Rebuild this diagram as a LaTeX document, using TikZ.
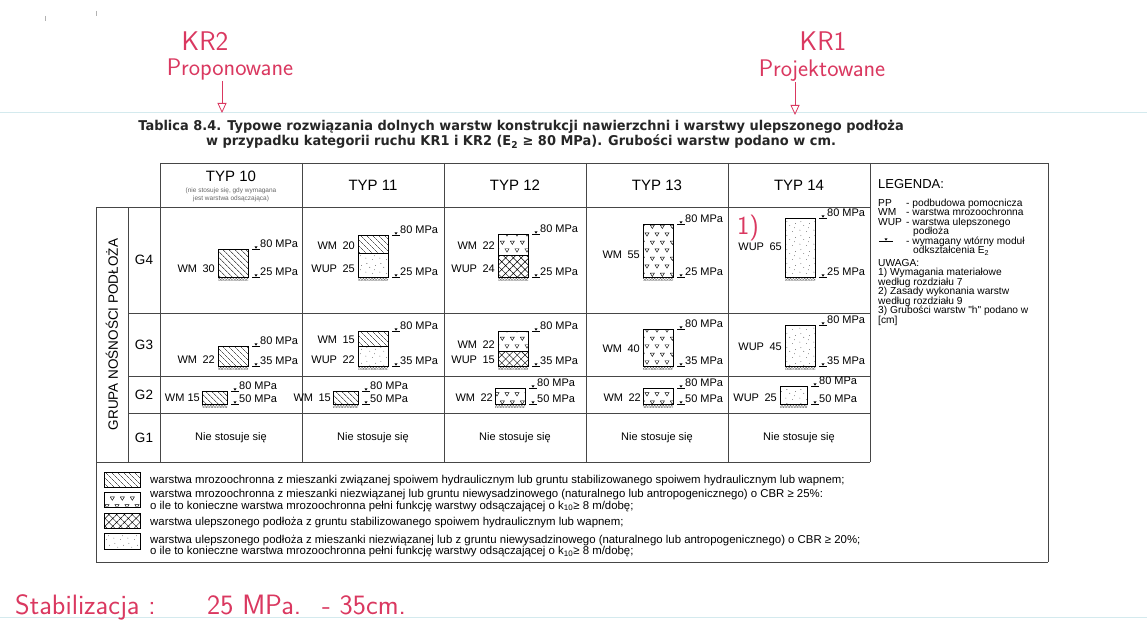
\documentclass[tikz,border=0pt]{standalone}
\usepackage{fontspec}
\setmainfont{Liberation Sans}
\newfontfamily\titlefont[FakeStretch=0.96]{DejaVu Sans}
\usetikzlibrary{patterns.meta, arrows.meta, positioning}

\definecolor{handred}{RGB}{218,56,96}
\definecolor{ruleblue}{RGB}{212,234,238}
\definecolor{gridgray}{RGB}{70,70,70}

% layer fills
\pgfdeclarepattern{
  name=soiltri, type=uncolored,
  bottom left={\pgfpoint{0pt}{0pt}}, top right={\pgfpoint{10pt}{16pt}},
  tile size={\pgfpoint{10pt}{16pt}},
  code={
    \pgfsetlinewidth{0.45pt}
    \pgfpathmoveto{\pgfpoint{0.3pt}{14.5pt}}
    \pgfpathlineto{\pgfpoint{4.7pt}{14.5pt}}
    \pgfpathlineto{\pgfpoint{2.5pt}{11pt}}
    \pgfpathclose
    \pgfpathmoveto{\pgfpoint{5.3pt}{6.5pt}}
    \pgfpathlineto{\pgfpoint{9.7pt}{6.5pt}}
    \pgfpathlineto{\pgfpoint{7.5pt}{3pt}}
    \pgfpathclose
    \pgfusepath{stroke}
  }
}
\pgfdeclarepattern{
  name=soildots, type=uncolored,
  bottom left={\pgfpoint{0pt}{0pt}}, top right={\pgfpoint{14pt}{14pt}},
  tile size={\pgfpoint{14pt}{14pt}},
  code={
    \pgfpathcircle{\pgfpoint{2pt}{3pt}}{0.45pt}
    \pgfpathcircle{\pgfpoint{9pt}{1.5pt}}{0.4pt}
    \pgfpathcircle{\pgfpoint{6pt}{8pt}}{0.45pt}
    \pgfpathcircle{\pgfpoint{12pt}{10pt}}{0.4pt}
    \pgfpathcircle{\pgfpoint{3pt}{12pt}}{0.45pt}
    \pgfpathcircle{\pgfpoint{11pt}{5.5pt}}{0.4pt}
    \pgfusepath{fill}
  }
}

% E2 marker and its value
\newcommand{\modmark}[4]{%
  \draw[line width=0.4pt] (#2+4,#3) -- (#2+12,#3);
  \fill (#2+6.5,#3-2.6) -- (#2+9.5,#3-2.6) -- (#2+8,#3-0.3) -- cycle;
  \node[mpa, anchor=base west] (#1) at (#2+12,#3-1.5) {#4 MPa};}

% layer column: frame, soil strip, markers
\newcommand{\layercol}[7]{%
  \fill[soil] (#2,#4) rectangle (#2+#5,#4+3);
  \draw[line width=0.5pt] (#2,#3) rectangle (#2+#5,#4);
  \modmark{#1t}{#2+#5}{#3}{#6}
  \modmark{#1b}{#2+#5}{#4}{#7}}

\begin{document}
\begin{tikzpicture}[x=1pt, y=-1pt,
    grid/.style={line width=0.6pt, gridgray},
    mpa/.style={font=\fontsize{11}{12}\selectfont, inner sep=0pt},
    lbl/.style={font=\fontsize{11}{12}\selectfont, inner sep=0pt},
    typ/.style={font=\fontsize{15}{16}\selectfont, inner sep=0pt},
    grp/.style={font=\fontsize{13.5}{14}\selectfont, inner sep=0pt},
    nie/.style={font=\fontsize{11}{12}\selectfont, inner sep=0pt},
    leg/.style={font=\fontsize{10.2}{11}\selectfont, inner sep=0pt, anchor=base west},
    bleg/.style={font=\fontsize{11.4}{12}\selectfont, inner sep=0pt, anchor=base west},
    titletext/.style={font=\titlefont\bfseries\fontsize{13.5}{15}\selectfont, inner sep=0pt, anchor=base, text=black!85},
    hand/.style={font=\sffamily\fontsize{24}{26}\selectfont, text=handred, inner sep=0pt},
    handarrow/.style={handred, line width=0.8pt, -{Triangle[open, length=10pt, width=9pt]}},
    hatchwm/.style={pattern={Lines[angle=-45, distance=4pt, line width=0.45pt]}},
    triwm/.style={pattern=soiltri},
    crosswup/.style={pattern={Hatch[angle=45, distance=5.5pt, line width=0.45pt]}},
    dotwup/.style={pattern=soildots, pattern color=black!70},
    soil/.style={pattern={Hatch[angle=45, distance=2pt, line width=0.3pt]}, pattern color=black!60}]

    \useasboundingbox[fill=white] (0,0) rectangle (1147,639);

    % Paper rules and specks
    \draw[ruleblue, line width=1pt] (0,113) -- (1147,113);
    \draw[ruleblue, line width=1pt] (0,617) -- (1147,617);
    \draw[gray!60, line width=0.8pt] (45,16) -- (45,21);
    \draw[gray!60, line width=0.8pt] (96,11) -- (96,16);

    % Handwritten notes
    \node[hand, font=\sffamily\fontsize{27}{28}\selectfont] (kr2) at (205,41) {KR2};
    \node[hand] (kr2txt) at (230,70) {Proponowane};
    \coordinate (kr2end) at (222,113);
    \draw[handarrow] (kr2txt.south -| kr2end) -- (kr2end);
    \node[hand, font=\sffamily\fontsize{27}{28}\selectfont] (kr1) at (823,41) {KR1};
    \node[hand] (kr1txt) at (822,71) {Projektowane};
    \coordinate (kr1end) at (795,115);
    \draw[handarrow] (kr1txt.south -| kr1end) -- (kr1end);
    \node[hand, font=\sffamily\fontsize{26}{28}\selectfont] (uw1) at (748,228) {1)};

    % Title
    \node[titletext] (title1) at (521,131) {Tablica 8.4. Typowe rozwiązania dolnych warstw konstrukcji nawierzchni i warstwy ulepszonego podłoża};
    \node[titletext] (title2) at (521,146) {w przypadku kategorii ruchu KR1 i KR2 (E\textsubscript{2} ≥ 80 MPa). Grubości warstw podano w cm.};

    % Table lines
    \draw[grid] (160,163) -- (1048,163);
    \draw[grid] (96,207) -- (870,207);
    \draw[grid] (128,313) -- (870,313);
    \draw[grid] (128,376) -- (870,376);
    \draw[grid] (128,413) -- (870,413);
    \draw[grid] (96,462) -- (870,462);
    \draw[grid] (96,562) -- (1048,562);
    \draw[grid] (96,207) -- (96,562);
    \draw[grid] (128,207) -- (128,462);
    \foreach \x in {160,302,444,586,728,870}
        \draw[grid] (\x,163) -- (\x,462);
    \draw[grid] (1048,163) -- (1048,562);

    % Header
    \node[typ] (typ10) at (231,176) {TYP 10};
    \node[font=\fontsize{6.5}{7.5}\selectfont, text=black!60, align=center, inner sep=0pt] (typ10note) at (231,195) {(nie stosuje się, gdy wymagana\\jest warstwa odsączająca)};
    \node[typ] (typ11) at (373,185) {TYP 11};
    \node[typ] (typ12) at (515,185) {TYP 12};
    \node[typ] (typ13) at (657,185) {TYP 13};
    \node[typ] (typ14) at (799,185) {TYP 14};

    % Row heads
    \node[grp, rotate=90] (grupa) at (112,334.5) {GRUPA NOŚNOŚCI PODŁOŻA};
    \node[grp] (g4) at (144,260) {G4};
    \node[grp] (g3) at (144,344.5) {G3};
    \node[grp] (g2) at (144,394.5) {G2};
    \node[grp] (g1) at (144,437.5) {G1};

    % G4 row
    \fill[hatchwm] (218,249) rectangle (248,277);
    \layercol{g4a}{218}{249}{277}{30}{80}{25}
    \node[lbl, anchor=base east] (g4awm) at (215,272) {WM\enspace30};

    \fill[hatchwm] (358,235) rectangle (388,253);
    \fill[dotwup] (358,253) rectangle (388,277);
    \draw (358,253) -- (388,253);
    \layercol{g4b}{358}{235}{277}{30}{80}{25}
    \node[lbl, anchor=base east] (g4bwm) at (355,249) {WM\enspace20};
    \node[lbl, anchor=base east] (g4bwup) at (355,272) {WUP\enspace25};

    \fill[triwm] (498,234) rectangle (528,255);
    \fill[crosswup] (498,255) rectangle (528,277);
    \draw (498,255) -- (528,255);
    \layercol{g4c}{498}{234}{277}{30}{80}{25}
    \node[lbl, anchor=base east] (g4cwm) at (495,249) {WM\enspace22};
    \node[lbl, anchor=base east] (g4cwup) at (495,272) {WUP\enspace24};

    \fill[triwm] (643,224) rectangle (673,277);
    \layercol{g4d}{643}{224}{277}{30}{80}{25}
    \node[lbl, anchor=base east] (g4dwm) at (640,258) {WM\enspace55};

    \fill[dotwup] (785,218) rectangle (815,277);
    \layercol{g4e}{785}{218}{277}{30}{80}{25}
    \node[lbl, anchor=base east] (g4ewup) at (782,250) {WUP\enspace65};

    % G3 row
    \fill[hatchwm] (218,346) rectangle (248,366);
    \layercol{g3a}{218}{346}{366}{30}{80}{35}
    \node[lbl, anchor=base east] (g3awm) at (215,363) {WM\enspace22};

    \fill[hatchwm] (358,331) rectangle (388,346);
    \fill[dotwup] (358,346) rectangle (388,366);
    \draw (358,346) -- (388,346);
    \layercol{g3b}{358}{331}{366}{30}{80}{35}
    \node[lbl, anchor=base east] (g3bwm) at (355,343) {WM\enspace15};
    \node[lbl, anchor=base east] (g3bwup) at (355,363) {WUP\enspace22};

    \fill[triwm] (498,331) rectangle (528,351);
    \fill[crosswup] (498,351) rectangle (528,366);
    \draw (498,351) -- (528,351);
    \layercol{g3c}{498}{331}{366}{30}{80}{35}
    \node[lbl, anchor=base east] (g3cwm) at (495,348) {WM\enspace22};
    \node[lbl, anchor=base east] (g3cwup) at (495,363) {WUP\enspace15};

    \fill[triwm] (643,329) rectangle (673,366);
    \layercol{g3d}{643}{329}{366}{30}{80}{35}
    \node[lbl, anchor=base east] (g3dwm) at (640,352) {WM\enspace40};

    \fill[dotwup] (785,325) rectangle (815,366);
    \layercol{g3e}{785}{325}{366}{30}{80}{35}
    \node[lbl, anchor=base east] (g3ewup) at (782,350) {WUP\enspace45};

    % G2 row
    \fill[hatchwm] (202,391) rectangle (227,404);
    \layercol{g2a}{202}{391}{404}{25}{80}{50}
    \node[lbl, anchor=base east] (g2awm) at (200,401) {WM 15};

    \fill[hatchwm] (333,391) rectangle (358,404);
    \layercol{g2b}{333}{391}{404}{25}{80}{50}
    \node[lbl, anchor=base east] (g2bwm) at (331,401) {WM\enspace15};

    \fill[triwm] (495,388) rectangle (525,404);
    \layercol{g2c}{495}{388}{404}{30}{80}{50}
    \node[lbl, anchor=base east] (g2cwm) at (493,401) {WM\enspace22};

    \fill[triwm] (643,388) rectangle (673,404);
    \layercol{g2d}{643}{388}{404}{30}{80}{50}
    \node[lbl, anchor=base east] (g2dwm) at (641,401) {WM\enspace22};

    \fill[dotwup] (780,386) rectangle (807,404);
    \layercol{g2e}{780}{386}{404}{27}{80}{50}
    \node[lbl, anchor=base east] (g2ewup) at (777,401) {WUP\enspace25};

    % G1 row
    \foreach \c/\n in {231/a, 373/b, 515/c, 657/d, 799/e}
        \node[nie] (g1\n) at (\c,437.5) {Nie stosuje się};

    % Legend column
    \node[font=\fontsize{13}{14}\selectfont, inner sep=0pt, anchor=base west] (legenda) at (878,188) {LEGENDA:};
    \node[leg] (lpp) at (878,206) {PP};
    \node[leg] (lppt) at (906,206) {- podbudowa pomocnicza};
    \node[leg] (lwm) at (878,215.5) {WM};
    \node[leg] (lwmt) at (906,215.5) {- warstwa mrozoochronna};
    \node[leg] (lwup) at (878,225) {WUP};
    \node[leg] (lwupt) at (906,225) {- warstwa ulepszonego};
    \node[leg] (lwupt2) at (913,234.5) {podłoża};
    \draw[line width=0.4pt] (879,241) -- (893,241);
    \fill (884.5,238.4) -- (887.5,238.4) -- (886,240.7) -- cycle;
    \node[leg] (lmodt) at (906,244) {- wymagany wtórny moduł};
    \node[leg] (lmodt2) at (913,253.5) {odkształcenia E\textsubscript{2}};
    \node[leg] (luwaga) at (878,266) {UWAGA:};
    \node[leg] (lu1) at (878,275.5) {1) Wymagania materiałowe};
    \node[leg] (lu1b) at (878,285) {według rozdziału 7};
    \node[leg] (lu2) at (878,294.5) {2) Zasady wykonania warstw};
    \node[leg] (lu2b) at (878,304) {według rozdziału 9};
    \node[leg] (lu3) at (878,313.5) {3) Grubości warstw \textquotedbl h\textquotedbl\ podano w};
    \node[leg] (lu3b) at (878,323) {[cm]};

    % Bottom legend
    \fill[hatchwm] (104,472) rectangle (140,487);
    \draw (104,472) rectangle (140,487);
    \fill[triwm] (104,492) rectangle (140,507);
    \draw (104,492) rectangle (140,507);
    \fill[crosswup] (104,513) rectangle (140,528);
    \draw (104,513) rectangle (140,528);
    \fill[dotwup] (104,533) rectangle (140,549);
    \draw (104,533) rectangle (140,549);
    \node[bleg] (bl1) at (150,483) {warstwa mrozoochronna z mieszanki związanej spoiwem hydraulicznym lub gruntu stabilizowanego spoiwem hydraulicznym lub wapnem;};
    \node[bleg] (bl2) at (150,497.5) {warstwa mrozoochronna z mieszanki niezwiązanej lub gruntu niewysadzinowego (naturalnego lub antropogenicznego) o CBR ≥ 25\%:};
    \node[bleg] (bl2b) at (150,509) {o ile to konieczne warstwa mrozoochronna pełni funkcję warstwy odsączającej o k\textsubscript{10}≥ 8 m/dobę;};
    \node[bleg] (bl3) at (150,525) {warstwa ulepszonego podłoża z gruntu stabilizowanego spoiwem hydraulicznym lub wapnem;};
    \node[bleg] (bl4) at (150,543) {warstwa ulepszonego podłoża z mieszanki niezwiązanej lub z gruntu niewysadzinowego (naturalnego lub antropogenicznego) o CBR ≥ 20\%;};
    \node[bleg] (bl4b) at (150,554.5) {o ile to konieczne warstwa mrozoochronna pełni funkcję warstwy odsączającej o k\textsubscript{10}≥ 8 m/dobę;};

    % Handwritten result
    \node[hand, font=\sffamily\fontsize{28}{30}\selectfont, anchor=base west] (stab) at (15,614) {Stabilizacja :};
    \node[hand, font=\sffamily\fontsize{28}{30}\selectfont, anchor=base west] (stabmpa) at (207,614) {25 MPa.};
    \node[hand, font=\sffamily\fontsize{28}{30}\selectfont, anchor=base west] (stabcm) at (322,614) {- 35cm.};
\end{tikzpicture}
\end{document}
